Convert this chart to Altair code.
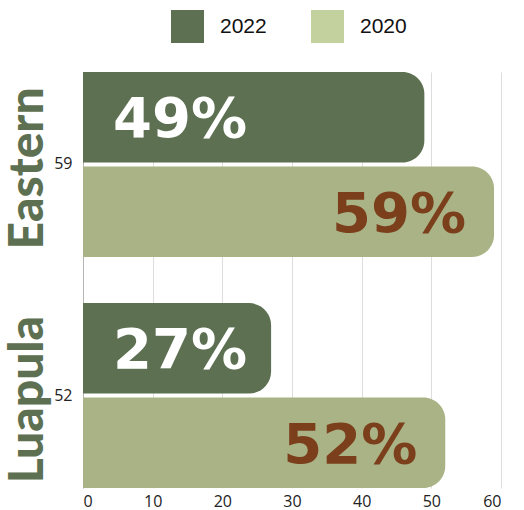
import altair as alt
import pandas as pd

regions = ["Eastern", "Luapula"]
years = ["2022", "2020"]
values_2022 = [49, 27]
values_2020 = [59, 52]
axis_tick_labels = ["59", "52"]
x_ticks = [0, 10, 20, 30, 40, 50, 60]

bar_colors = {"2022": "#5e7052", "2020": "#a9b386"}
legend_colors = {"2022": "#5e7052", "2020": "#c3d19f"}
dark_green = "#5e7052"
brown = "#7b3f1b"

rows = []
for i, r in enumerate(regions):
    rows.append({"region": r, "year": "2022", "value": values_2022[i], "label": f"{values_2022[i]}%"})
    rows.append({"region": r, "year": "2020", "value": values_2020[i], "label": f"{values_2020[i]}%"})
df = pd.DataFrame(rows)
reg_df = pd.DataFrame({"region": regions})

label_expr = "datum.value == '%s' ? '%s' : '%s'" % (regions[0], axis_tick_labels[0], axis_tick_labels[1])

y_enc = alt.Y(
    "region:N", sort=regions,
    scale=alt.Scale(paddingInner=0.2, paddingOuter=0),
    axis=alt.Axis(title=None, labelExpr=label_expr, ticks=False, domainColor="#b5b5b5",
                  labelFont="Open Sans", labelFontSize=16, labelColor="#222222",
                  labelPadding=11, grid=False, labelAngle=0),
)
yoff_enc = alt.YOffset("year:N", sort=years, scale=alt.Scale(domain=years, paddingInner=0.043))
x_enc = alt.X(
    "value:Q", stack=None,
    scale=alt.Scale(domain=[0, 60]),
    axis=alt.Axis(values=x_ticks, title=None, domain=False, ticks=False, grid=True,
                  gridColor="#dddddd", labelFont="Open Sans", labelFontSize=16,
                  labelColor="#222222", labelPadding=5),
)

# bar colour scale uses reversed domain order so it is kept apart from the legend scale
bar_domain = list(reversed(years))
bars = alt.Chart(df).mark_bar(cornerRadiusEnd=22, opacity=1).encode(
    x=x_enc, y=y_enc, yOffset=yoff_enc,
    color=alt.Color("year:N",
                    scale=alt.Scale(domain=bar_domain, range=[bar_colors[y] for y in bar_domain]),
                    legend=None),
)

legend_layer = alt.Chart(df).mark_square(opacity=1, size=0).encode(
    x=x_enc, y=y_enc,
    fill=alt.Fill("year:N",
                  scale=alt.Scale(domain=years, range=[legend_colors[y] for y in years]),
                  legend=alt.Legend(title=None, orient="none", legendX=88, legendY=-62,
                                    direction="horizontal", symbolType="square",
                                    symbolSize=1089, symbolStrokeWidth=0, symbolOpacity=1,
                                    labelFont="Liberation Sans", labelFontSize=21,
                                    labelColor="#111111", labelOffset=16,
                                    columnPadding=44, padding=0)),
)

txt_2022 = alt.Chart(df).transform_filter("datum.year == '2022'").mark_text(
    align="left", baseline="middle", dx=30, dy=3, font="DejaVu Sans", fontWeight="bold",
    fontSize=56, color="white"
).encode(x=alt.datum(0), y=y_enc, yOffset=yoff_enc, text="label:N")

txt_2020 = alt.Chart(df).transform_filter("datum.year == '2020'").mark_text(
    align="right", baseline="middle", dx=-28, dy=3, font="DejaVu Sans", fontWeight="bold",
    fontSize=56, color=brown
).encode(x=x_enc, y=y_enc, yOffset=yoff_enc, text="label:N")

region_txt = alt.Chart(reg_df).mark_text(
    angle=270, align="center", baseline="middle", font="Lato", fontWeight=900,
    fontSize=48, color=dark_green, dx=-4
).encode(y=y_enc, x=alt.value(-54), text="region:N")

chart = alt.layer(bars, legend_layer, txt_2022, txt_2020, region_txt).properties(
    width=418, height=416,
    autosize="none",
    padding={"left": 83, "top": 72, "right": 23, "bottom": 22},
    background="white",
).configure_view(stroke=None)

chart.save("out.html", embed_options={"renderer": "svg", "actions": False})
